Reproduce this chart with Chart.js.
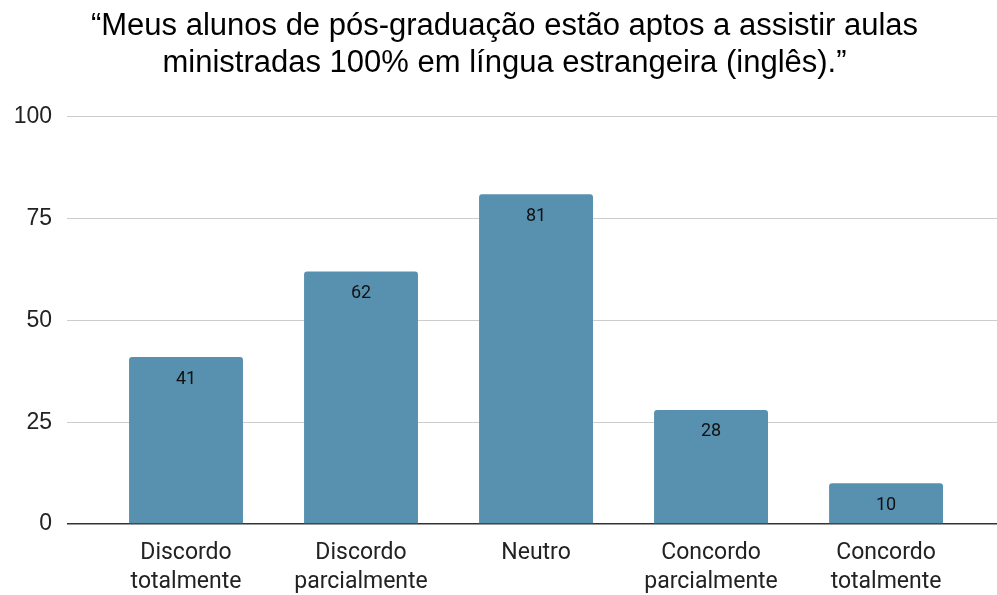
<!DOCTYPE html>
<html><head><meta charset="utf-8">
<script src="https://cdn.jsdelivr.net/npm/chart.js@4"></script>
<style>html,body{margin:0;padding:0;background:#fff}#w{width:997px;height:595px}</style>
</head><body><div id="w"><canvas id="c"></canvas></div>
<script>
const titleLines = ["“Meus alunos de pós-graduação estão aptos a assistir aulas", "ministradas 100% em língua estrangeira (inglês).”"];
const categories = [["Discordo","totalmente"],["Discordo","parcialmente"],["Neutro"],["Concordo","parcialmente"],["Concordo","totalmente"]];
const values = [41, 62, 81, 28, 10];
const yTicks = [0, 25, 50, 75, 100];

const points = values.map((v,i)=>({x:i,y:v}));

const labelPlugin = {
  id:'vals',
  afterDatasetsDraw(chart){
    const ctx = chart.ctx;
    const meta = chart.getDatasetMeta(0);
    ctx.save();
    ctx.font = '18px Roboto';
    ctx.fillStyle = '#111';
    ctx.textAlign = 'center';
    ctx.textBaseline = 'middle';
    meta.data.forEach((el,i)=>{
      ctx.fillText(String(values[i]), el.x, el.y + 22);
    });
    ctx.restore();
  }
};

new Chart(document.getElementById('c'), {
  type:'bar',
  data:{datasets:[{data:points, backgroundColor:'#5891b0', borderRadius:3, borderSkipped:'bottom', barPercentage:0.651, categoryPercentage:1}]},
  options:{
    responsive:true, maintainAspectRatio:false, animation:false,
    layout:{padding:{left:12,right:0,top:0,bottom:0}},
    plugins:{
      legend:{display:false}, tooltip:{enabled:false},
      title:{display:true, text:titleLines, color:'#000', font:{family:'Liberation Sans', size:31, lineHeight:1.19, weight:'normal'}, padding:{top:8,bottom:35}}
    },
    scales:{
      x:{type:'linear', offset:false, min:-0.68, max:4.634,
        afterBuildTicks(s){ s.ticks = categories.map((c,i)=>({value:i})); },
        afterFit(s){ s.height = 71; },
        grid:{display:false, drawTicks:false}, border:{display:false},
        ticks:{padding:15, color:'#222', font:{family:'Roboto', size:23, lineHeight:1.26}, callback:(v)=>categories[v], maxRotation:0, autoSkip:false}
      },
      y:{min:0, max:100,
        afterBuildTicks(s){ s.ticks = yTicks.map(v=>({value:v})); },
        afterFit(s){ s.width = 55; },
        grid:{color:(c)=>c.tick && c.tick.value===0 ? '#333' : '#ccc', lineWidth:(c)=>c.tick && c.tick.value===0 ? 1.5 : 1, drawTicks:false},
        border:{display:false},
        ticks:{padding:15, color:'#222', font:{family:'Liberation Sans', size:23}}
      }
    }
  },
  plugins:[labelPlugin]
});
</script></body></html>
